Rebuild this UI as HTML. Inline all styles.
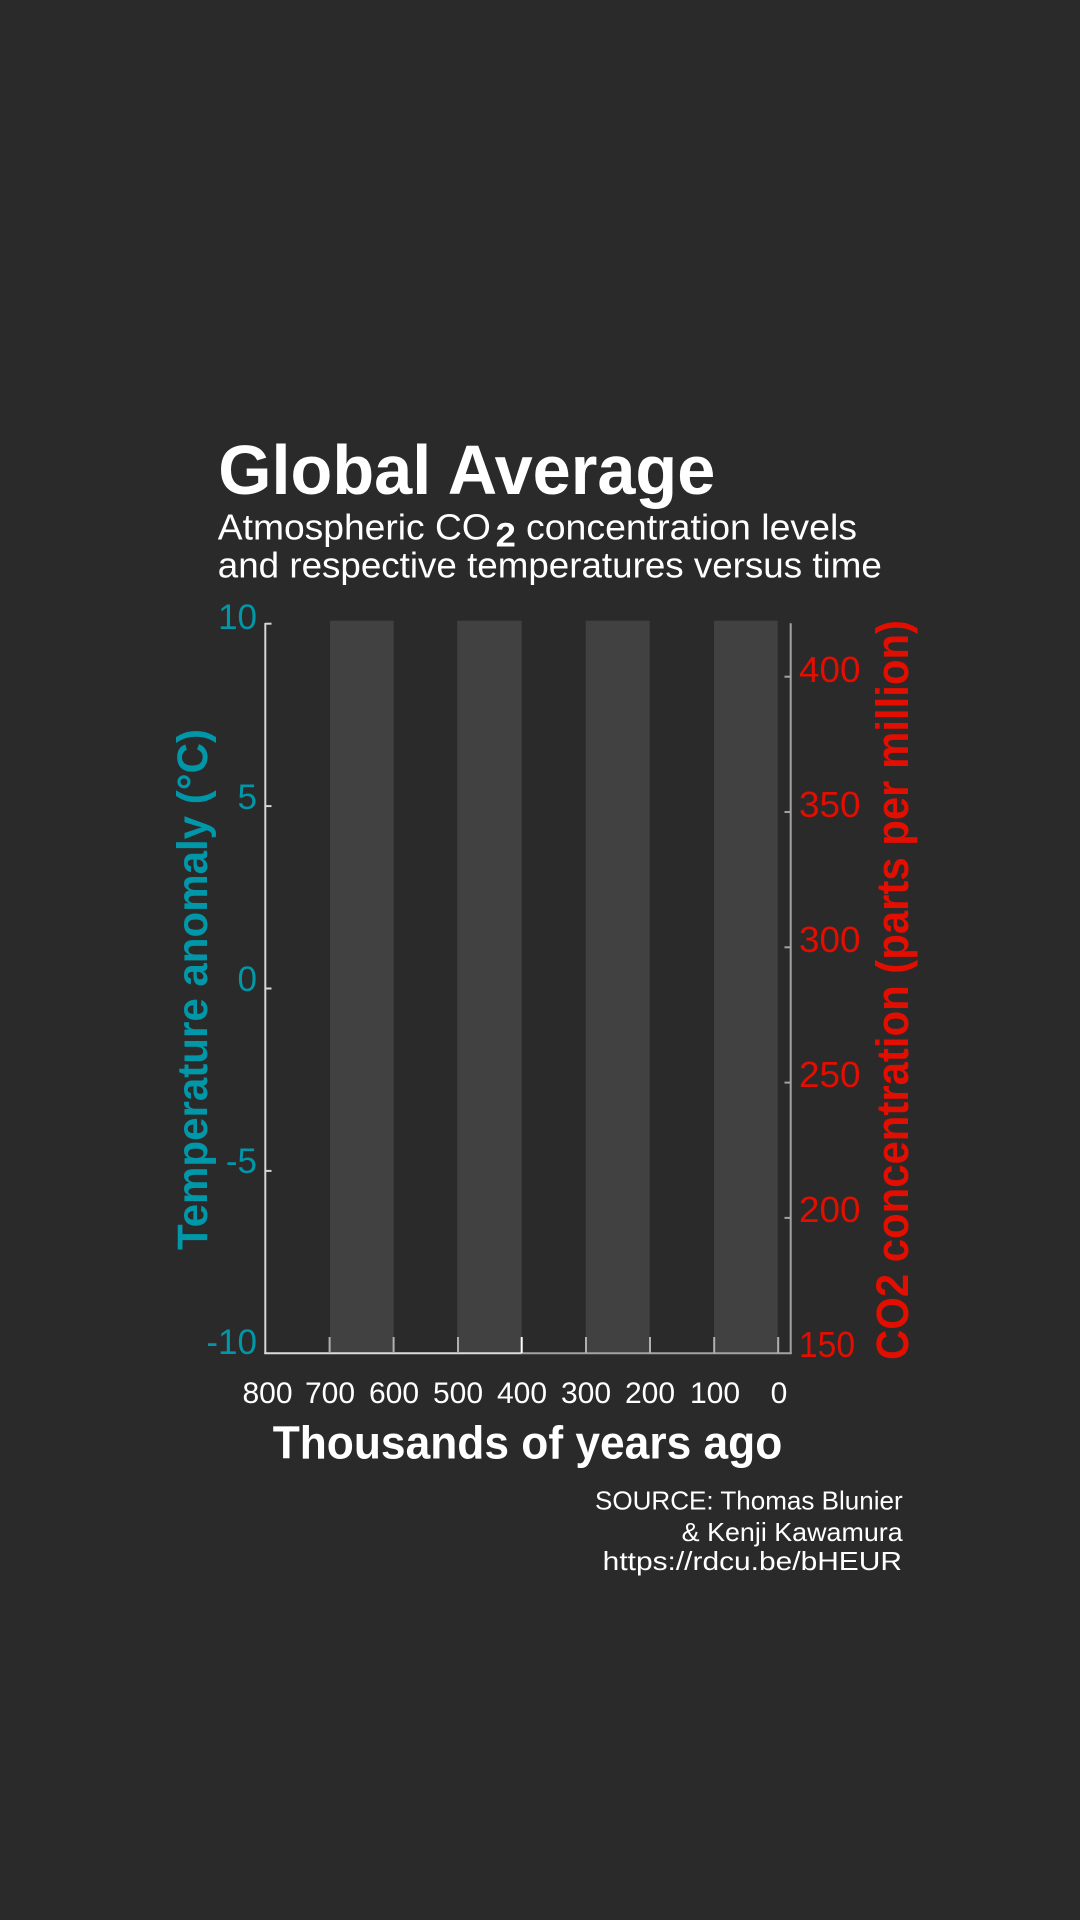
<!DOCTYPE html>
<html>
<head>
<meta charset="utf-8">
<style>
  html, body { margin: 0; padding: 0; background: #2a2a2a; }
  body { width: 1080px; height: 1920px; overflow: hidden; }
  svg { display: block; }
  text { font-family: "Liberation Sans", "DejaVu Sans", sans-serif; }
</style>
</head>
<body>
<svg width="1080" height="1920" viewBox="0 0 1080 1920" xmlns="http://www.w3.org/2000/svg">
  <rect x="0" y="0" width="1080" height="1920" fill="#2a2a2a"/>

  <!-- Title -->
  <text x="218.3" y="494" font-size="70" font-weight="bold" fill="#ffffff" textLength="497" lengthAdjust="spacingAndGlyphs">Global Average</text>

  <!-- Subtitle -->
  <text x="217.8" y="539.3" font-size="36" fill="#ffffff" textLength="273" lengthAdjust="spacingAndGlyphs">Atmospheric CO</text>
  <text x="495.7" y="546.7" font-size="34" font-weight="bold" fill="#ffffff" textLength="20.3" lengthAdjust="spacingAndGlyphs">2</text>
  <text x="526" y="539.3" font-size="36" fill="#ffffff" textLength="331" lengthAdjust="spacingAndGlyphs">concentration levels</text>
  <text x="217.8" y="577.3" font-size="36" fill="#ffffff" textLength="664" lengthAdjust="spacingAndGlyphs">and respective temperatures versus time</text>

  <!-- Bars (interglacial shading) -->
  <g fill="#414141">
    <rect x="330" y="620.7" width="63.7" height="732.6"/>
    <rect x="457.3" y="620.7" width="64.4" height="732.6"/>
    <rect x="585.7" y="620.7" width="64" height="732.6"/>
    <rect x="714" y="620.7" width="63.7" height="732.6"/>
  </g>

  <!-- Left axis -->
  <g stroke="#d6d6d6" stroke-width="2" fill="none">
    <line x1="265.3" y1="623" x2="265.3" y2="1354"/>
    <line x1="265.3" y1="623.7" x2="271.5" y2="623.7"/>
    <line x1="265.3" y1="806.1" x2="271.5" y2="806.1"/>
    <line x1="265.3" y1="988.5" x2="271.5" y2="988.5"/>
    <line x1="265.3" y1="1170.9" x2="271.5" y2="1170.9"/>
  </g>

  <!-- Right axis -->
  <g stroke="#a3a3a3" stroke-width="2" fill="none">
    <line x1="790.7" y1="623.3" x2="790.7" y2="1354"/>
    <line x1="784.5" y1="676.7" x2="790.7" y2="676.7"/>
    <line x1="784.5" y1="812" x2="790.7" y2="812"/>
    <line x1="784.5" y1="947.3" x2="790.7" y2="947.3"/>
    <line x1="784.5" y1="1082.6" x2="790.7" y2="1082.6"/>
    <line x1="784.5" y1="1217.9" x2="790.7" y2="1217.9"/>
  </g>

  <!-- X axis -->
  <line x1="264.3" y1="1353.3" x2="521.7" y2="1353.3" stroke="#dcdcdc" stroke-width="2"/>
  <line x1="521.7" y1="1353.3" x2="791.7" y2="1353.3" stroke="#a3a3a3" stroke-width="2"/>
  <g stroke="#b0b0b0" stroke-width="2">
    <line x1="329.6" y1="1337" x2="329.6" y2="1353"/>
    <line x1="393.6" y1="1337" x2="393.6" y2="1353"/>
    <line x1="458" y1="1337" x2="458" y2="1353"/>
    <line x1="586" y1="1337" x2="586" y2="1353"/>
    <line x1="650" y1="1337" x2="650" y2="1353"/>
    <line x1="714.2" y1="1337" x2="714.2" y2="1353"/>
    <line x1="778.2" y1="1337" x2="778.2" y2="1353"/>
  </g>
  <line x1="521.7" y1="1337" x2="521.7" y2="1353" stroke="#ffffff" stroke-width="2"/>

  <!-- Left tick labels -->
  <g font-size="35" fill="#0097a9" text-anchor="end">
    <text x="257" y="629">10</text>
    <text x="257" y="809">5</text>
    <text x="257" y="991">0</text>
    <text x="257" y="1173">-5</text>
    <text x="257" y="1354">-10</text>
  </g>

  <!-- Right tick labels -->
  <g font-size="36" fill="#e20e00">
    <text x="799" y="682" textLength="61.5" lengthAdjust="spacingAndGlyphs">400</text>
    <text x="799" y="817" textLength="61.5" lengthAdjust="spacingAndGlyphs">350</text>
    <text x="799" y="952" textLength="61.5" lengthAdjust="spacingAndGlyphs">300</text>
    <text x="799" y="1087" textLength="61.5" lengthAdjust="spacingAndGlyphs">250</text>
    <text x="799" y="1222" textLength="61.5" lengthAdjust="spacingAndGlyphs">200</text>
    <text x="799" y="1357" textLength="56" lengthAdjust="spacingAndGlyphs">150</text>
  </g>

  <!-- X tick labels -->
  <g font-size="30" fill="#ffffff" text-anchor="middle">
    <text x="267.5" y="1403">800</text>
    <text x="330" y="1403">700</text>
    <text x="394" y="1403">600</text>
    <text x="458" y="1403">500</text>
    <text x="522" y="1403">400</text>
    <text x="586" y="1403">300</text>
    <text x="650" y="1403">200</text>
    <text x="715" y="1403">100</text>
    <text x="779" y="1403">0</text>
  </g>

  <!-- X axis title -->
  <text x="272.7" y="1458.3" font-size="46" font-weight="bold" fill="#ffffff" textLength="509.6" lengthAdjust="spacingAndGlyphs">Thousands of years ago</text>

  <!-- Left Y axis title -->
  <text transform="translate(207,1250) rotate(-90)" x="0" y="0" font-size="43" font-weight="bold" fill="#0097a9" textLength="521" lengthAdjust="spacingAndGlyphs">Temperature anomaly (°C)</text>

  <!-- Right Y axis title -->
  <text transform="translate(908,1360) rotate(-90)" x="0" y="0" font-size="45" font-weight="bold" fill="#e20e00" textLength="740" lengthAdjust="spacingAndGlyphs">CO2 concentration (parts per million)</text>

  <!-- Source -->
  <g font-size="26" fill="#ffffff">
    <text x="595" y="1509.3" textLength="307.7" lengthAdjust="spacingAndGlyphs">SOURCE: Thomas Blunier</text>
    <text x="681.7" y="1541" textLength="221" lengthAdjust="spacingAndGlyphs">&amp; Kenji Kawamura</text>
    <text x="602.7" y="1570" textLength="299.3" lengthAdjust="spacingAndGlyphs">https://rdcu.be/bHEUR</text>
  </g>
</svg>
</body>
</html>
